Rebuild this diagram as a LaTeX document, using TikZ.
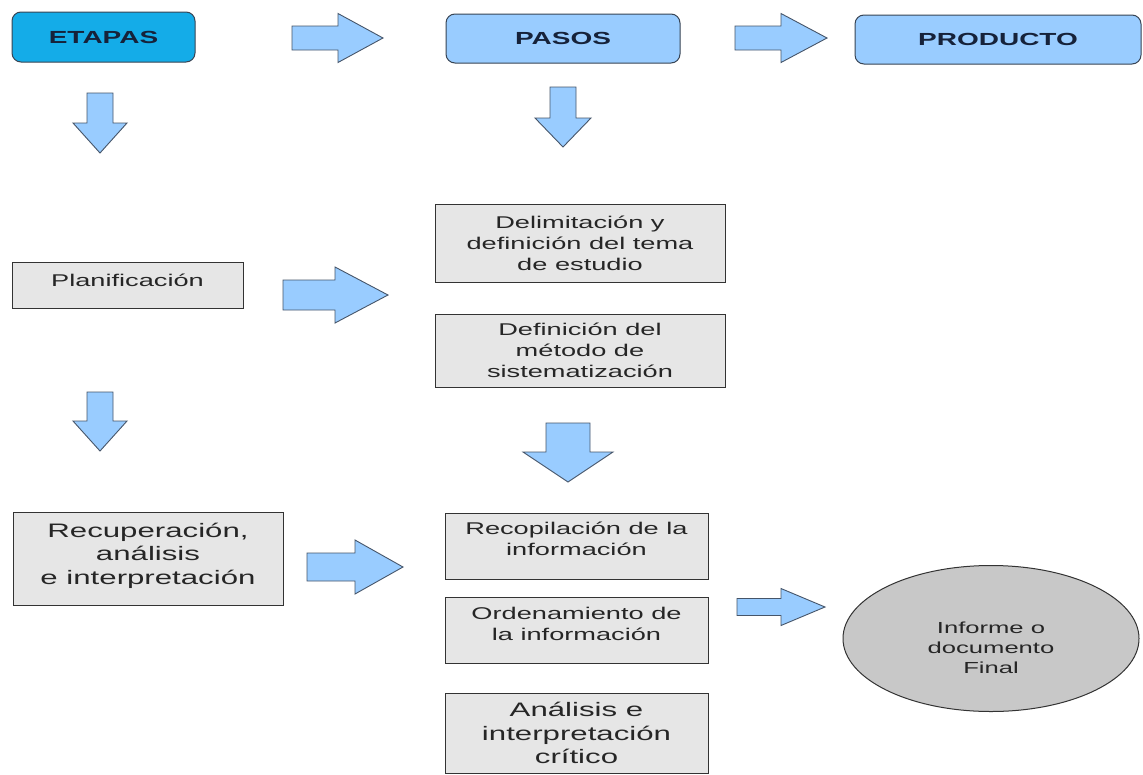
\documentclass[tikz,border=0pt]{standalone}
\usepackage{fontspec}
\setmainfont[FakeStretch=1.6]{Liberation Sans}
\definecolor{cyanbox}{RGB}{20,172,232}
\definecolor{lblue}{RGB}{153,204,255}
\definecolor{graybox}{RGB}{230,230,230}
\definecolor{grayell}{RGB}{200,200,200}
\definecolor{navytxt}{RGB}{22,34,58}
\definecolor{arrline}{RGB}{70,85,105}
\newcommand\blkR[6]{% x1 x2 yc bodyhalf headhalf headx
  \filldraw[blkarrow] (#1,#3-#4) -- (#6,#3-#4) -- (#6,#3-#5) -- (#2,#3) -- (#6,#3+#5) -- (#6,#3+#4) -- (#1,#3+#4) -- cycle;}
\newcommand\blkD[6]{% y1 y2 xc bodyhalf headhalf heady
  \filldraw[blkarrow] (#3-#4,#1) -- (#3-#4,#6) -- (#3-#5,#6) -- (#3,#2) -- (#3+#5,#6) -- (#3+#4,#6) -- (#3+#4,#1) -- cycle;}
\begin{document}
\begin{tikzpicture}[x=1pt,y=-1pt,
  blkarrow/.style={fill=lblue,draw=arrline,line width=0.9pt,line join=miter},
  topbox/.style={draw=arrline!80!black,line width=1pt,rounded corners=9pt,inner sep=0pt,
     font=\bfseries\fontsize{17.5}{20}\selectfont,text=navytxt},
  graybx/.style={draw=black!80,fill=graybox,line width=1pt,inner sep=0pt,align=center,text=black!85,
     font=\fontsize{17}{21}\selectfont},
  bigtxt/.style={font=\fontsize{19.5}{23.5}\selectfont},
]
\useasboundingbox (0,0) rectangle (1143,774);
\fill[white] (0,0) rectangle (1143,774);
% header boxes
\node[topbox,fill=cyanbox,minimum width=183pt,minimum height=50pt] (etapas) at (103.5,37) {ETAPAS};
\node[topbox,fill=lblue,minimum width=234pt,minimum height=49pt] (pasos) at (563,38.5) {PASOS};
\node[topbox,fill=lblue,minimum width=286pt,minimum height=49pt] (producto) at (998,39.5) {PRODUCTO};
% gray boxes
\node[graybx,minimum width=231pt,minimum height=46pt] (plan) at (127.5,285) {Planificación\\[-11pt]};
\node[graybx,minimum width=290pt,minimum height=78pt] (delim) at (580,243) {Delimitación y\\definición del tema\\de estudio};
\node[graybx,minimum width=290pt,minimum height=73pt] (defin) at (580,350.5) {Definición del\\método de\\sistematización};
\node[graybx,bigtxt,minimum width=270pt,minimum height=93pt] (recup) at (148,558.5) {Recuperación,\\análisis\\e interpretación\\[-14pt]};
\node[graybx,minimum width=263pt,minimum height=66pt] (recop) at (576.5,546) {Recopilación de la\\información\\[-7pt]};
\node[graybx,minimum width=263pt,minimum height=66pt] (orden) at (576.5,630) {Ordenamiento de\\la información\\[-9pt]};
\node[graybx,bigtxt,minimum width=263pt,minimum height=80pt] (anal) at (576.5,733) {Análisis e\\interpretación\\crítico};
\draw[draw=black!80,fill=grayell,line width=1pt] (991,638.5) ellipse [x radius=148pt, y radius=73pt];
\node[align=center,text=black!85,font=\fontsize{16}{20}\selectfont] (final) at (991,648) {Informe o\\documento\\Final};
% block arrows
\blkR{292}{383}{38}{12}{24.5}{338}
\blkR{735}{827}{38}{12}{24.5}{781}
\blkR{283}{388}{295}{15}{28}{335}
\blkR{307}{403}{567}{14}{27}{355}
\blkR{737}{825}{607}{8.5}{18.5}{781}
\blkD{93}{153}{100}{13}{27}{123}
\blkD{87}{147}{563}{13}{28}{118}
\blkD{392}{451}{100}{13}{27}{421}
\blkD{423}{482}{568}{22}{45}{452}
\end{tikzpicture}
\end{document}
